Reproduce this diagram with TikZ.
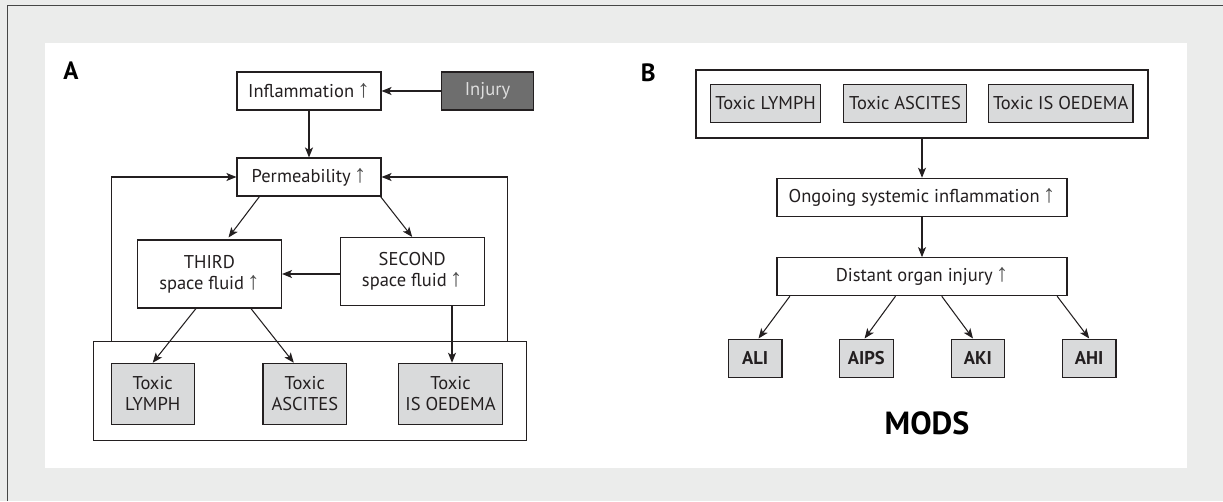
\documentclass[tikz,border=0pt]{standalone}
\usepackage{fontspec}
\setmainfont{PT Sans}
\newfontfamily\arrowfont{Liberation Sans}
\usetikzlibrary{arrows.meta,calc}
\definecolor{bggray}{RGB}{235,236,235}
\definecolor{toxfill}{RGB}{217,218,219}
\definecolor{injfill}{RGB}{110,110,110}
\definecolor{injtext}{RGB}{222,222,222}
\definecolor{linec}{RGB}{35,31,32}
\definecolor{framec}{RGB}{70,70,70}
\definecolor{upgray}{RGB}{80,80,80}
\newcommand{\myup}{\,{\arrowfont\fontsize{25}{21}\selectfont\textcolor{upgray}{↑}}}
\tikzset{
  box/.style={draw=linec, line width=1.1pt, fill=white, inner sep=0pt, align=center, text=linec, font=\fontsize{18.5}{21}\selectfont},
  toxbox/.style={box, fill=toxfill},
  boldbox/.style={box, fill=toxfill, font=\bfseries\fontsize{18.5}{21}\selectfont, minimum width=53.5, minimum height=38.3},
  groupbox/.style={draw=linec, line width=1.1pt, fill=white, inner sep=0pt},
  panellabel/.style={font=\bfseries\fontsize{25}{26}\selectfont, text=black, inner sep=0pt},
  arr/.style={draw=linec, line width=1.05pt, -{Stealth[length=10pt,width=8pt,inset=2.5pt]}}
}
\begin{document}
\begin{tikzpicture}[x=1pt,y=-1pt]
\useasboundingbox (0,0) rectangle (1223,501);
\fill[bggray] (0,0) rectangle (1223,501);
\fill[white] (45,42.7) rectangle (1187,467.7);
\draw[framec, line width=1.4pt] (7.3,501) -- (7.3,5.7) -- (1223,5.7);

% Panel A
\node[panellabel] (labA) at (71,71) {A};
\node[box, minimum width=144, minimum height=38] (inflam) at (309,91) {Inflammation\myup};
\node[box, fill=injfill, text=injtext, minimum width=92, minimum height=38] (injury) at (487.5,91) {Injury};
\node[box, minimum width=144, minimum height=38] (perm) at (309,177) {Permeability\myup};
\node[box, minimum width=144, minimum height=68] (third) at (209.5,274) {THIRD\\space fluid\myup};
\node[box, minimum width=144, minimum height=68] (second) at (412.2,271.5) {SECOND\\space fluid\myup};
\node[groupbox, minimum width=433.4, minimum height=99] (boxA) at (310,391.2) {};
\node[toxbox, minimum width=83.3, minimum height=61] (lymA) at (152.7,393.8) {Toxic\\LYMPH};
\node[toxbox, minimum width=83.7, minimum height=61] (ascA) at (304.8,393.8) {Toxic\\ASCITES};
\node[toxbox, minimum width=104.4, minimum height=61] (oedA) at (450.5,393.8) {Toxic\\IS OEDEMA};

\draw[arr] (injury.west) -- (inflam.east);
\draw[arr] (inflam.south) -- (perm.north);
\draw[arr] ($(boxA.north west)+(18.4,0)$) |- (perm.west);
\draw[arr] ($(boxA.north east)+(-19.4,0)$) |- (perm.east);
\draw[arr] ($(perm.south west)+(23,0)$) -- ($(third.north)+(19,-2)$);
\draw[arr] ($(perm.south east)+(-1,0)$) -- (second.north);
\draw[arr] (second.west |- third.east) -- (third.east);
\draw[arr] ($(third.south west)+(59,0)$) -- (lymA.north);
\draw[arr] ($(third.south west)+(114,0)$) -- ($(ascA.north)+(-11,0)$);
\coordinate (oedtop) at ($(oedA.north)+(1.5,0)$);
\draw[arr] (second.south -| oedtop) -- (oedtop);

% Panel B
\node[panellabel] (labB) at (648.3,72.5) {B};
\node[groupbox, minimum width=452, minimum height=68] (boxB) at (922,104) {};
\node[toxbox, minimum width=110.4, minimum height=38] (lymB) at (765.6,103.3) {Toxic LYMPH};
\node[toxbox, minimum width=123, minimum height=38] (ascB) at (905,103.3) {Toxic ASCITES};
\node[toxbox, minimum width=144.5, minimum height=38] (oedB) at (1060.7,103.3) {Toxic IS OEDEMA};
\node[box, minimum width=290, minimum height=38] (ongo) at (922,197.3) {Ongoing systemic inflammation\myup};
\node[box, minimum width=290, minimum height=38] (dist) at (922,276.7) {Distant organ injury\myup};
\node[boldbox] (ali) at (755.2,358.2) {ALI};
\node[boldbox] (aips) at (866.3,358.2) {AIPS};
\node[boldbox] (aki) at (977.8,358.2) {AKI};
\node[boldbox] (ahi) at (1089.2,358.2) {AHI};
\node[font=\bfseries\fontsize{32}{34}\selectfont, text=black, inner sep=0pt] (mods) at (927,423) {MODS};

\draw[arr] (boxB.south) -- (ongo.north);
\draw[arr] (ongo.south) -- (dist.north);
\draw[arr] ($(dist.south west)+(13.4,0)$) -- ($(ali.north)+(3.3,0)$);
\draw[arr] ($(dist.south west)+(119,0)$) -- ($(aips.north)+(-1.7,0)$);
\draw[arr] ($(dist.south west)+(165.3,0)$) -- ($(aki.north)+(-4.8,0)$);
\draw[arr] ($(dist.south west)+(280.7,0)$) -- (ahi.north);
\end{tikzpicture}
\end{document}
